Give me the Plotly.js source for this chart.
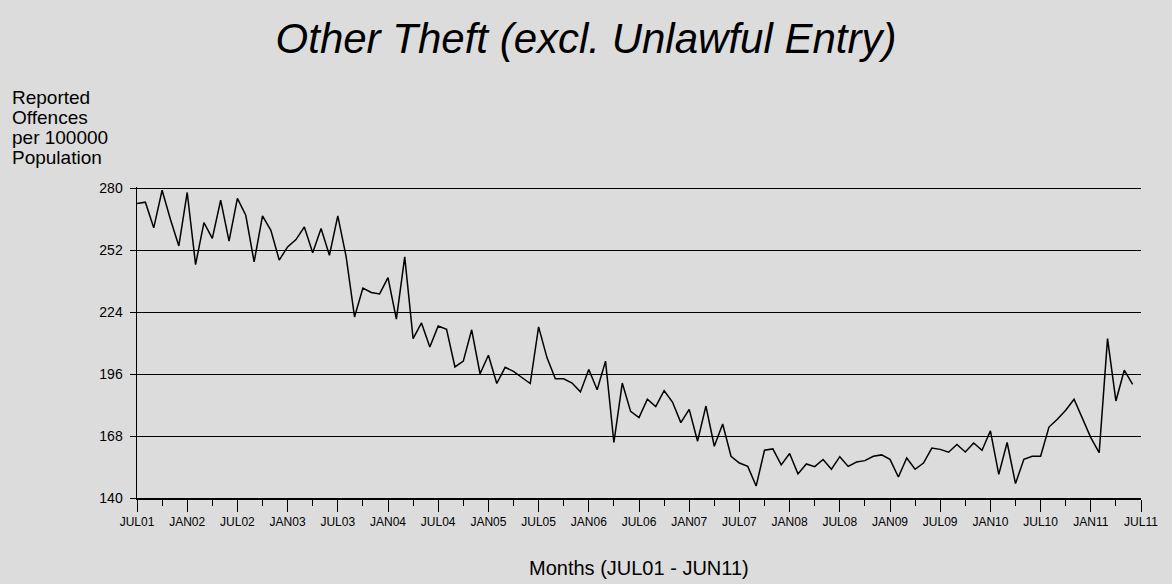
<!DOCTYPE html>
<html>
<head>
<meta charset="utf-8">
<script src="https://cdn.plot.ly/plotly-3.0.1.min.js"></script>
<style>html,body{margin:0;padding:0;background:#dcdcdc;}#chart{width:1172px;height:584px;}</style>
</head>
<body>
<div id="chart"></div>
<script>
// Reported offences per 100000 population, monthly JUL01 .. JUN11
const offenceRates = [
  273.2, 273.8, 262.2, 279.2, 266.0, 254.0, 278.2, 245.6, 264.6, 257.4, 274.7, 256.2,
  275.5, 267.9, 246.8, 267.6, 261.1, 247.6, 253.6, 256.9, 262.6, 250.9, 261.9, 249.8,
  267.6, 249.1, 221.9, 235.0, 233.0, 232.3, 239.7, 220.9, 249.1, 212.1, 219.2, 208.3,
  217.8, 216.3, 199.3, 201.9, 216.1, 196.2, 204.6, 191.8, 199.1, 197.3, 194.5, 191.8,
  217.4, 203.5, 193.9, 193.9, 192.0, 188.0, 198.1, 189.0, 201.9, 165.1, 192.0, 179.2,
  176.4, 184.7, 181.4, 188.6, 183.4, 174.1, 180.1, 165.7, 181.6, 163.4, 173.5, 158.9,
  155.8, 154.3, 145.4, 161.6, 162.2, 155.0, 160.1, 150.9, 155.4, 154.2, 157.4, 153.0,
  158.7, 154.3, 156.3, 156.9, 158.9, 159.5, 157.5, 149.5, 158.1, 153.0, 155.8, 162.6,
  162.0, 160.7, 164.2, 160.8, 164.9, 161.6, 170.4, 150.7, 165.1, 146.5, 157.5, 158.9,
  158.9, 172.1, 175.6, 179.7, 184.7, 175.6, 167.3, 160.5, 212.1, 183.9, 197.8, 191.4
];
const tickLabels = ['JUL01','JAN02','JUL02','JAN03','JUL03','JAN04','JUL04','JAN05','JUL05','JAN06',
  'JUL06','JAN07','JUL07','JAN08','JUL08','JAN09','JUL09','JAN10','JUL10','JAN11','JUL11'];
const tickMonths = [0,6,12,18,24,30,36,42,48,54,60,66,72,78,84,90,96,102,108,114,120];
const yTicks = [140,168,196,224,252,280];
const yTitleLines = ['Reported','Offences','per 100000','Population'];

const monthIndex = offenceRates.map((_, i) => i);
const bg = '#dcdcdc';
const fontFam = '"Liberation Sans", Arial, sans-serif';

const trace = {
  x: monthIndex, y: offenceRates, type: 'scatter', mode: 'lines',
  line: {color: '#000000', width: 1.5}, hoverinfo: 'skip'
};

// plot area: top at ~187px, bottom at 498px
const plotTop = 187, plotBottom = 498, plotLeft = 137, plotRight = 1141;
const plotH = plotBottom - plotTop, plotW = plotRight - plotLeft;
const py = (pix) => (plotBottom - pix) / plotH;
const px = (pix) => (pix - plotLeft) / plotW;

const annotations = yTitleLines.map((t, i) => ({
  text: t, xref: 'paper', yref: 'paper', x: px(10), y: py(97 + 20 * i),
  xanchor: 'left', yanchor: 'middle', align: 'left', showarrow: false,
  font: {family: fontFam, size: 19, color: '#000000'}
}));
annotations.push({
  text: 'Months (JUL01 - JUN11)',
  xref: 'paper', yref: 'paper', x: 0.5, y: py(568),
  xanchor: 'center', yanchor: 'middle', showarrow: false,
  font: {family: fontFam, size: 20, color: '#000000'}
});

const topTick = yTicks[yTicks.length - 1];

const layout = {
  width: 1172, height: 584,
  paper_bgcolor: bg, plot_bgcolor: bg,
  margin: {l: plotLeft, r: 1172 - plotRight, t: plotTop, b: 584 - plotBottom, pad: 0},
  showlegend: false,
  font: {family: fontFam, color: '#000000'},
  title: {
    text: 'Other Theft (excl. Unlawful Entry)',
    font: {family: fontFam, size: 42, style: 'italic', color: '#000000'},
    xref: 'container', x: 0.5, xanchor: 'center',
    yref: 'container', y: 1 - 38/584, yanchor: 'middle'
  },
  xaxis: {
    range: [0, 120], tickmode: 'array', tickvals: tickMonths, ticktext: tickLabels,
    ticks: 'outside', ticklen: 12, tickwidth: 1, tickcolor: '#000000',
    showline: true, linecolor: '#000000', linewidth: 1.5,
    showgrid: false, zeroline: false,
    tickfont: {family: fontFam, size: 12, color: '#000000'},
    minor: {tickmode: 'linear', tick0: 0, dtick: 3, ticks: 'outside', ticklen: 6, tickwidth: 1, tickcolor: '#000000', showgrid: false}
  },
  yaxis: {
    range: [140, 280.68], tickmode: 'array', tickvals: yTicks,
    ticks: 'outside', ticklen: 6, tickwidth: 1, tickcolor: '#000000',
    showline: true, linecolor: '#000000', linewidth: 1.5,
    showgrid: true, gridcolor: '#000000', gridwidth: 1,
    zeroline: false, ticklabelstandoff: 4,
    tickfont: {family: fontFam, size: 14, color: '#000000'}
  },
  shapes: [{
    type: 'line', xref: 'paper', yref: 'y', x0: 0, x1: 1, y0: topTick, y1: topTick,
    line: {color: '#000000', width: 1}, layer: 'below'
  }],
  annotations: annotations
};

Plotly.newPlot('chart', [trace], layout, {staticPlot: true, displayModeBar: false});
</script>
</body>
</html>
